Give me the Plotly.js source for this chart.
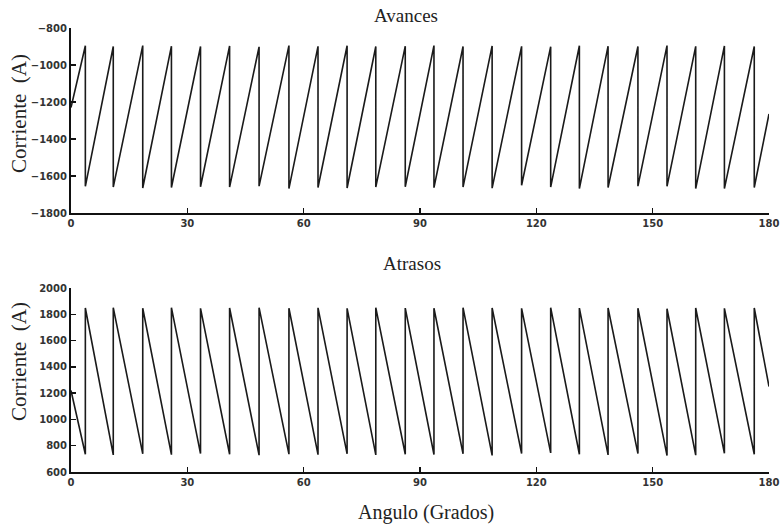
<!DOCTYPE html>
<html>
<head>
<meta charset="utf-8">
<script src="https://cdn.plot.ly/plotly-3.0.1.min.js"></script>
<style>
  html, body { margin: 0; padding: 0; background: #fff; }
  #chart { width: 782px; height: 530px; }
</style>
</head>
<body>
<div id="chart"></div>
<script>
// Switching instants of the sawtooth (degrees), shared by both traces
const switchAngles = [3.7, 10.9, 18.5, 25.9, 33.4, 40.9, 48.5, 56.2, 63.7, 71.2, 78.6, 86.2,
                      93.6, 101.1, 108.6, 116.2, 123.7, 131.1, 138.5, 146.2, 153.7, 161.1, 168.5, 176.2];

// "Avances": current rises linearly to a peak, then drops to the trough
const avancesStart = -1230;
const avancesEnd = -1265;
const avancesPeak = [-896, -900, -895, -898, -900, -897, -902, -895, -899, -896, -900, -898,
                     -895, -900, -897, -899, -901, -896, -898, -900, -895, -899, -897, -900];
const avancesTrough = [-1656, -1660, -1665, -1662, -1658, -1660, -1655, -1668, -1662, -1665, -1660, -1658,
                       -1663, -1660, -1666, -1650, -1660, -1668, -1662, -1655, -1656, -1668, -1668, -1662];

// "Atrasos": current falls linearly to a trough, then jumps back to the peak
const atrasosStart = 1220;
const atrasosEnd = 1250;
const atrasosPeak = [1848, 1850, 1846, 1850, 1845, 1848, 1850, 1846, 1849, 1845, 1850, 1847,
                     1846, 1850, 1848, 1845, 1850, 1847, 1848, 1846, 1842, 1848, 1845, 1848];
const atrasosTrough = [735, 730, 738, 732, 740, 735, 728, 736, 732, 738, 730, 735,
                       733, 738, 726, 740, 745, 735, 730, 740, 725, 728, 742, 735];

const xTicks = [0, 30, 60, 90, 120, 150, 180];
const avancesTicks = [-1800, -1600, -1400, -1200, -1000, -800];
const atrasosTicks = [600, 800, 1000, 1200, 1400, 1600, 1800, 2000];

// Build the polylines: each switching angle holds a vertical edge
function buildWave(start, end, first, second) {
  const x = [0], y = [start];
  switchAngles.forEach((a, i) => {
    x.push(a, a);
    y.push(first[i], second[i]);
  });
  x.push(180); y.push(end);
  return { x, y };
}

const av = buildWave(avancesStart, avancesEnd, avancesPeak, avancesTrough);
const at = buildWave(atrasosStart, atrasosEnd, atrasosTrough, atrasosPeak);

const lineStyle = { color: '#1a1a1a', width: 1.6 };

const traces = [
  { x: av.x, y: av.y, xaxis: 'x', yaxis: 'y', mode: 'lines', line: lineStyle, hoverinfo: 'x+y' },
  { x: at.x, y: at.y, xaxis: 'x2', yaxis: 'y2', mode: 'lines', line: lineStyle, hoverinfo: 'x+y' }
];

const tickFont = { family: 'DejaVu Sans', size: 10, color: '#333', weight: 'bold' };
const serif = 'Liberation Serif, Times New Roman, serif';

const axisBase = {
  showline: true, linecolor: '#111', linewidth: 2,
  showgrid: false, zeroline: false,
  ticks: 'inside', ticklen: 5, tickwidth: 1.5, tickcolor: '#111',
  tickfont: tickFont, ticklabeloverflow: 'allow'
};

const H = 530, L = 71, R = 769;
const px = v => (v - L) / (R - L);
const py = v => (H - v) / H;

const label = (text, x, y, size, angle) => ({
  text, xref: 'paper', yref: 'paper', x: px(x), y: py(y),
  xanchor: 'center', yanchor: 'middle', textangle: angle || 0,
  showarrow: false, font: { family: serif, size, color: '#222' }
});

const layout = {
  width: 782, height: 530,
  margin: { l: L, r: 782 - R, t: 0, b: 0 },
  paper_bgcolor: '#fff', plot_bgcolor: '#fff',
  showlegend: false,
  xaxis: Object.assign({}, axisBase, {
    domain: [0, 1], anchor: 'y', range: [0, 180], tickvals: xTicks
  }),
  yaxis: Object.assign({}, axisBase, {
    domain: [py(213), py(28)], anchor: 'x', range: [-1800, -800], tickvals: avancesTicks
  }),
  xaxis2: Object.assign({}, axisBase, {
    domain: [0, 1], anchor: 'y2', range: [0, 180], tickvals: xTicks
  }),
  yaxis2: Object.assign({}, axisBase, {
    domain: [py(472), py(288)], anchor: 'x2', range: [600, 2000], tickvals: atrasosTicks
  }),
  annotations: [
    label('Avances', 406, 16, 19),
    label('Atrasos', 412, 263, 19),
    label('Angulo (Grados)', 426, 512, 20),
    label('Corriente  (A)', 19, 114, 21, -90),
    label('Corriente  (A)', 19, 362, 21, -90)
  ]
};

Plotly.newPlot('chart', traces, layout, { displayModeBar: false, staticPlot: true });
</script>
</body>
</html>
